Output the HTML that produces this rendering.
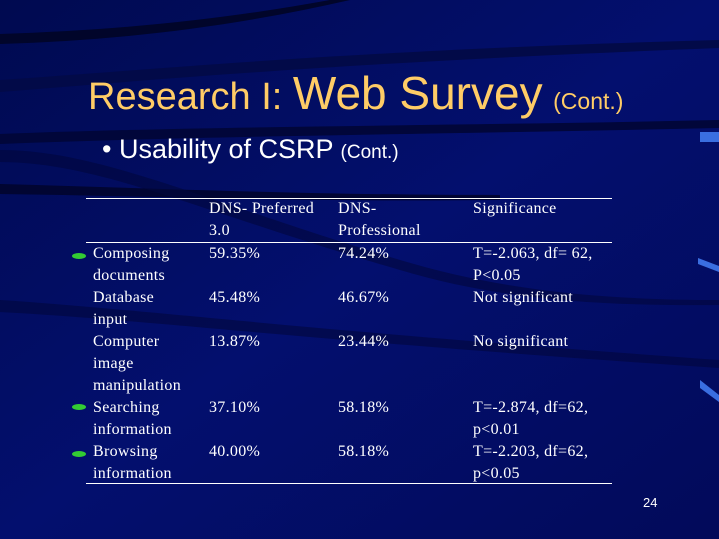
<!DOCTYPE html>
<html><head><meta charset="utf-8"><style>
body{margin:0;width:719px;height:539px;overflow:hidden;position:relative;background:#020b5c;font-family:"Liberation Serif",serif;}
.t{position:absolute;color:#fff;font-size:16px;line-height:22px;white-space:nowrap;letter-spacing:0.3px}
.h{position:absolute;height:1px;background:#fff;left:86px;width:526px}
.b{position:absolute;width:14px;height:6px;border-radius:50%;background:#3c3;left:72px}
</style></head><body>
<svg width="719" height="539" style="position:absolute;left:0;top:0">
<defs><linearGradient id="g" x1="0" y1="0" x2="1" y2="1"><stop offset="0" stop-color="#000a50"/><stop offset="0.5" stop-color="#030f6e"/><stop offset="1" stop-color="#020a5a"/></linearGradient></defs>
<rect width="719" height="539" fill="url(#g)"/>
<path d="M0 34 C120 30 220 20 330 0 L350 0 C240 25 130 40 0 44Z" fill="#01052a"/>
<path d="M0 80 C150 70 350 50 719 40 L719 48 C350 62 150 80 0 92Z" fill="#020a48"/>
<path d="M0 134 C200 126 450 126 719 120 L719 128 C450 134 200 136 0 144Z" fill="#01063a"/>
<path d="M0 184 C150 188 300 195 500 195 L500 200 C300 202 150 196 0 194Z" fill="#010532"/>
<path d="M0 150 C100 150 200 200 400 260 C500 290 600 300 719 300 L719 305 C600 306 500 300 400 270 C200 212 100 162 0 162Z" fill="#01063c" opacity="0.6"/>
<path d="M0 300 C150 310 300 330 719 360 L719 368 C300 340 150 320 0 312Z" fill="#01063c" opacity="0.6"/>
<rect x="700" y="132" width="19" height="10" fill="#3a6ee0"/>
<path d="M698 258 L719 266 L719 272 L698 264Z" fill="#3a6ee0"/>
<path d="M700 380 L719 395 L719 402 L700 388Z" fill="#3a6ee0"/>
</svg>
<div style="position:absolute;left:88px;top:66px;color:#ffcc66;font-family:'Liberation Sans',sans-serif;font-size:38px;white-space:nowrap">Research I: <span style="font-size:46px">Web Survey</span> <span style="font-size:23px">(Cont.)</span></div>
<div style="position:absolute;left:102px;top:134px;color:#fff;font-family:'Liberation Sans',sans-serif;font-size:27px;white-space:nowrap">• Usability of CSRP <span style="font-size:19px">(Cont.)</span></div>
<div class="h" style="top:198px"></div>
<div class="h" style="top:242px"></div>
<div class="h" style="top:483px"></div>
<div class="b" style="top:253px"></div>
<div class="b" style="top:404px"></div>
<div class="b" style="top:451px"></div>
<div class="t" style="left:209px;top:198px">DNS- Preferred<br>3.0</div>
<div class="t" style="left:338px;top:198px">DNS-<br>Professional</div>
<div class="t" style="left:473px;top:198px">Significance</div>
<div class="t" style="left:93px;top:243px">Composing<br>documents<br>Database<br>input<br>Computer<br>image<br>manipulation<br>Searching<br>information<br>Browsing<br>information</div>
<div class="t" style="left:209px;top:243px">59.35%<br><br>45.48%<br><br>13.87%<br><br><br>37.10%<br><br>40.00%</div>
<div class="t" style="left:338px;top:243px">74.24%<br><br>46.67%<br><br>23.44%<br><br><br>58.18%<br><br>58.18%</div>
<div class="t" style="left:473px;top:243px">T=-2.063, df= 62,<br>P&lt;0.05<br>Not significant<br><br>No significant<br><br><br>T=-2.874, df=62,<br>p&lt;0.01<br>T=-2.203, df=62,<br>p&lt;0.05</div>
<div style="position:absolute;left:643px;top:495px;color:#fff;font-family:'Liberation Sans',sans-serif;font-size:13px">24</div>
</body></html>
